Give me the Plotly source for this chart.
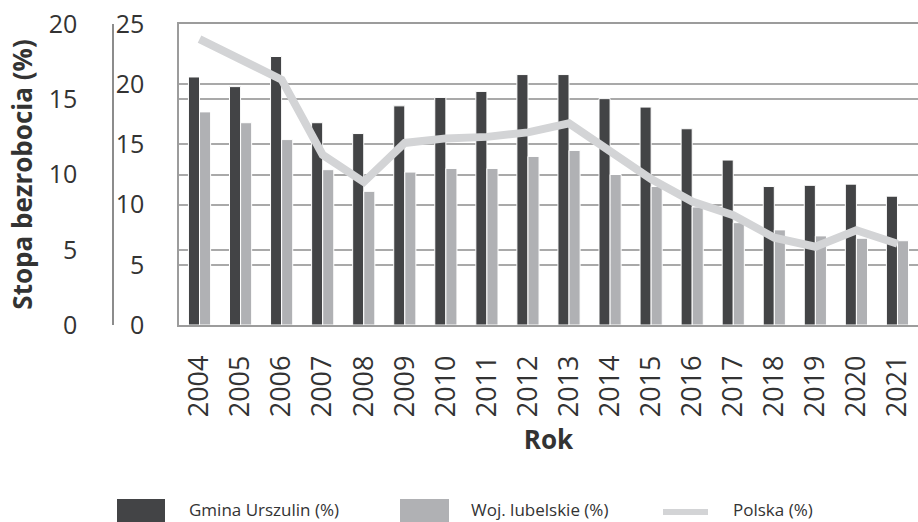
import plotly.graph_objects as go

# Unemployment rate data (%)
years = [str(y) for y in range(2004, 2022)]
gmina_urszulin = [20.6, 19.8, 22.3, 16.8, 15.9, 18.2, 18.9, 19.4, 20.8, 20.8,
                  18.8, 18.1, 16.3, 13.7, 11.5, 11.6, 11.7, 10.7]
woj_lubelskie = [17.7, 16.8, 15.4, 12.9, 11.1, 12.7, 13.0, 13.0, 14.0, 14.5,
                 12.5, 11.5, 9.8, 8.5, 7.9, 7.4, 7.2, 7.0]
polska = [19.0, 17.6, 16.3, 11.3, 9.5, 12.1, 12.4, 12.5, 12.8, 13.4,
          11.6, 9.7, 8.2, 7.3, 5.8, 5.2, 6.3, 5.4]

bar_ticks = [0, 5, 10, 15, 20, 25]
line_ticks = [0, 5, 10, 15, 20]

series_names = ["Gmina Urszulin (%)", "Woj. lubelskie (%)", "Polska (%)"]

# Page geometry (pixels)
W, H = 918, 522
PLOT_LEFT, PLOT_TOP, PLOT_BOTTOM = 179, 24, 325
PLOT_H = PLOT_BOTTOM - PLOT_TOP

DARK = "#434446"
LIGHT = "#b0b1b4"
LINE = "#d3d4d6"
GRID = "#a9a9a9"
TEXT = "#333333"
FONT = "Open Sans"


def px_x(p):
    return p / W


def px_y(p):
    return (PLOT_BOTTOM - p) / PLOT_H


fig = go.Figure()
fig.add_trace(go.Bar(
    x=years, y=gmina_urszulin, name=series_names[0],
    marker=dict(color=DARK, line=dict(color="white", width=1)),
    yaxis="y", showlegend=False,
))
fig.add_trace(go.Bar(
    x=years, y=woj_lubelskie, name=series_names[1],
    marker=dict(color=LIGHT, line=dict(color="white", width=1)),
    yaxis="y", showlegend=False,
))
fig.add_trace(go.Scatter(
    x=years, y=polska, name=series_names[2], mode="lines",
    line=dict(color=LINE, width=8),
    yaxis="y2", showlegend=False,
))

# Legend drawn as keys + labels along the bottom edge
key_y = 512
text_y = 509
shapes = [
    dict(type="rect", xref="paper", yref="paper",
         x0=px_x(117), x1=px_x(165), y0=px_y(499), y1=px_y(540),
         fillcolor=DARK, line=dict(width=0)),
    dict(type="rect", xref="paper", yref="paper",
         x0=px_x(400), x1=px_x(449), y0=px_y(499), y1=px_y(540),
         fillcolor=LIGHT, line=dict(width=0)),
    dict(type="line", xref="paper", yref="paper",
         x0=px_x(663), x1=px_x(708), y0=px_y(key_y), y1=px_y(key_y),
         line=dict(color=LINE, width=6)),
]
annotations = []
for name, xpos in zip(series_names, [187, 469, 731]):
    annotations.append(dict(
        text=name, xref="paper", yref="paper",
        x=px_x(xpos), y=px_y(text_y), xanchor="left", yanchor="middle",
        showarrow=False, font=dict(family=FONT, size=17, color=TEXT),
    ))

fig.update_layout(
    width=W, height=H,
    margin=dict(l=0, r=0, t=PLOT_TOP, b=H - PLOT_BOTTOM, autoexpand=False),
    paper_bgcolor="white", plot_bgcolor="white",
    barmode="group", bargap=0.46, bargroupgap=0.0,
    font=dict(family=FONT, color=TEXT),
    shapes=shapes, annotations=annotations,
    xaxis=dict(
        domain=[PLOT_LEFT / W, 1], type="category",
        tickangle=-90, tickfont=dict(size=27, color=TEXT),
        ticks="outside", ticklen=18, tickcolor="rgba(0,0,0,0)",
        showline=True, mirror=True, linecolor="#9c9c9c", linewidth=1.5,
        showgrid=False,
        title=dict(text="<b>Rok</b>", font=dict(size=26, color=TEXT), standoff=14),
    ),
    yaxis=dict(
        range=[0, 25], tickvals=bar_ticks, anchor="x",
        tickfont=dict(size=25, color=TEXT),
        ticks="outside", ticklen=28, tickcolor="rgba(0,0,0,0)",
        showgrid=True, gridcolor=GRID, gridwidth=1.5, zeroline=False,
        showline=True, mirror=True, linecolor="#9c9c9c", linewidth=1.5,
    ),
    yaxis2=dict(
        range=[0, 20], tickvals=line_ticks, overlaying="y",
        anchor="free", position=113 / W, side="left",
        tickfont=dict(size=25, color=TEXT),
        ticks="outside", ticklen=30, tickcolor="rgba(0,0,0,0)",
        showgrid=True, gridcolor=GRID, gridwidth=1.5, zeroline=False,
        showline=True, linecolor="#8c8c8c", linewidth=1.5,
        title=dict(text="<b>Stopa bezrobocia (%)</b>",
                   font=dict(size=26, color=TEXT), standoff=8),
    ),
)

fig.write_html("out.html")
